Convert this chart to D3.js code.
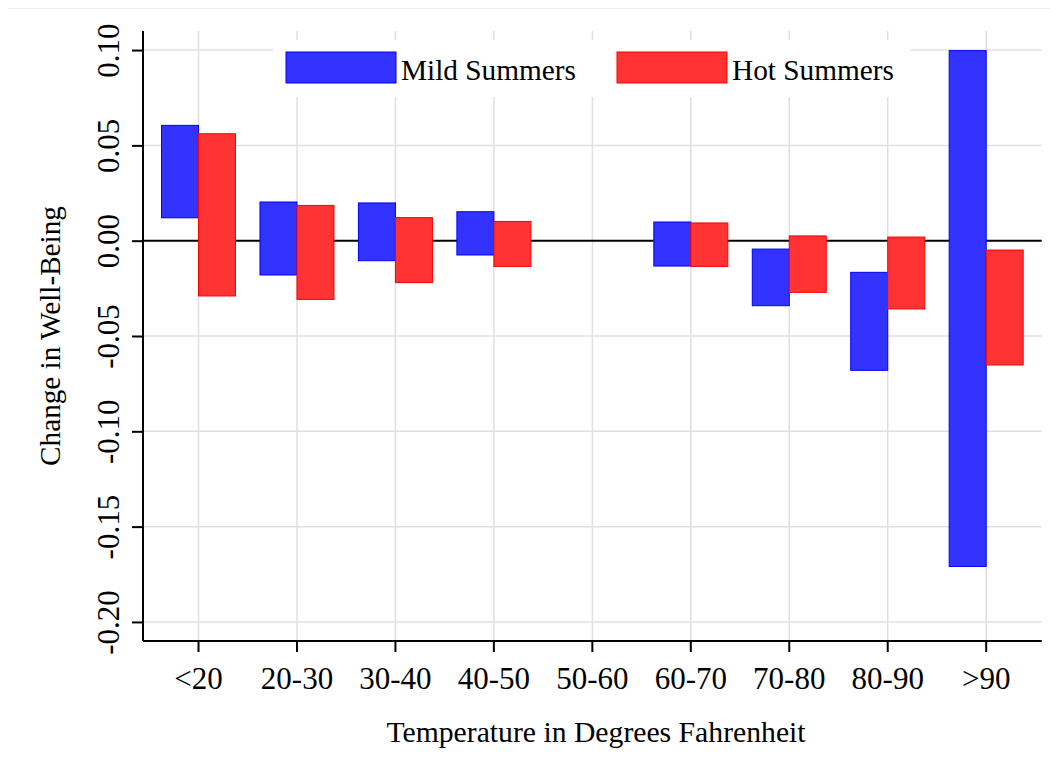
<!DOCTYPE html>
<html>
<head>
<meta charset="utf-8">
<script src="https://cdn.jsdelivr.net/npm/d3@7"></script>
<style>
  html, body { margin: 0; padding: 0; background: #fff; }
  svg { display: block; }
  text { font-family: "Liberation Serif", "Times New Roman", serif; fill: #000; }
</style>
</head>
<body>
<svg id="chart" width="1050" height="770"></svg>
<script>
// Temperature bins (degrees Fahrenheit); 50-60 is the omitted reference bin
const categories = ["<20", "20-30", "30-40", "40-50", "50-60", "60-70", "70-80", "80-90", ">90"];
const seriesNames = ["Mild Summers", "Hot Summers"];

// Interval bounds of the estimated change in well-being, per bin
const mildLow  = [0.012, -0.018, -0.0105, -0.0075, null, -0.0133, -0.0341, -0.0680, -0.1709];
const mildHigh = [0.0605, 0.0203, 0.0198, 0.0152, null, 0.0098, -0.0044, -0.0166, 0.0997];
const hotLow   = [-0.0290, -0.0308, -0.0220, -0.0135, null, -0.0135, -0.0271, -0.0358, -0.0652];
const hotHigh  = [0.0561, 0.0185, 0.0121, 0.0101, null, 0.0093, 0.0025, 0.0019, -0.0049];

const yTickValues = [-0.20, -0.15, -0.10, -0.05, 0.00, 0.05, 0.10];
const yTickLabels = ["-0.20", "-0.15", "-0.10", "-0.05", "0.00", "0.05", "0.10"];

const colors = { "Mild Summers": { fill: "#3333ff", stroke: "#0000ff" },
                 "Hot Summers":  { fill: "#ff3333", stroke: "#ff0000" } };

const svg = d3.select("#chart");

const plotLeft = 143, plotRight = 1041.7, plotTop = 31, plotBottom = 641;

const x = d3.scaleBand().domain(categories).range([plotLeft, plotRight])
  .paddingInner(0.2484).paddingOuter(0.188);
const x1 = d3.scaleBand().domain(seriesNames).range([0, x.bandwidth()]);
const y = d3.scaleLinear().domain([-0.21, 0.11]).range([plotBottom, plotTop]);

// faint outer frame line
svg.append("line").attr("x1", 8).attr("x2", 1050).attr("y1", 8.5).attr("y2", 8.5)
  .attr("stroke", "#e6eeee").attr("stroke-width", 1);

// grid
const grid = svg.append("g");
grid.selectAll("line.v").data(categories).join("line")
  .attr("x1", d => x(d) + x.bandwidth() / 2).attr("x2", d => x(d) + x.bandwidth() / 2)
  .attr("y1", plotTop).attr("y2", plotBottom)
  .attr("stroke", "#e0e0e0").attr("stroke-width", 1.5);
grid.selectAll("line.h").data(yTickValues.filter(v => v !== 0)).join("line")
  .attr("x1", plotLeft).attr("x2", plotRight)
  .attr("y1", d => y(d)).attr("y2", d => y(d))
  .attr("stroke", "#e0e0e0").attr("stroke-width", 1.5);

// legend background sits over the grid
const legend = svg.append("g");
legend.append("rect").attr("x", 273).attr("y", 40).attr("width", 638).attr("height", 57).attr("fill", "#fff");

// zero reference line
svg.append("line").attr("x1", plotLeft).attr("x2", plotRight).attr("y1", y(0)).attr("y2", y(0))
  .attr("stroke", "#000").attr("stroke-width", 2);

// floating bars
const rows = [];
categories.forEach((c, i) => {
  if (mildLow[i] !== null) rows.push({ cat: c, s: "Mild Summers", lo: mildLow[i], hi: mildHigh[i] });
  if (hotLow[i] !== null) rows.push({ cat: c, s: "Hot Summers", lo: hotLow[i], hi: hotHigh[i] });
});
svg.append("g").selectAll("rect").data(rows).join("rect")
  .attr("x", d => x(d.cat) + x1(d.s))
  .attr("width", x1.bandwidth())
  .attr("y", d => y(d.hi))
  .attr("height", d => y(d.lo) - y(d.hi))
  .attr("fill", d => colors[d.s].fill)
  .attr("stroke", d => colors[d.s].stroke)
  .attr("stroke-width", 1);

// axes
const yAxis = svg.append("g").attr("transform", `translate(${plotLeft},0)`)
  .call(d3.axisLeft(y).tickValues(yTickValues).tickSize(11).tickSizeOuter(0)
    .tickFormat((d, i) => yTickLabels[i]));
yAxis.select(".domain").attr("d", `M0,${plotBottom}V${plotTop}`).attr("stroke-width", 2);
yAxis.selectAll(".tick line").attr("stroke-width", 2);
yAxis.selectAll(".tick text")
  .attr("font-size", 31).attr("font-family", "Liberation Serif")
  .attr("text-anchor", "middle")
  .attr("x", 0).attr("y", 0).attr("dy", 0)
  .attr("transform", "translate(-24.5,0) rotate(-90)");

const xAxis = svg.append("g").attr("transform", `translate(0,${plotBottom})`)
  .call(d3.axisBottom(x).tickSize(11).tickSizeOuter(0));
xAxis.select(".domain").attr("d", `M${plotLeft},0H${plotRight}`).attr("stroke-width", 2);
xAxis.selectAll(".tick line").attr("stroke-width", 2);
xAxis.selectAll(".tick text")
  .attr("font-size", 31).attr("font-family", "Liberation Serif")
  .attr("y", 48).attr("dy", 0);

// axis titles
svg.append("text").attr("x", 596).attr("y", 742).attr("text-anchor", "middle")
  .attr("font-size", 29.7).text("Temperature in Degrees Fahrenheit");
svg.append("text").attr("transform", `translate(60,${(plotTop + plotBottom) / 2}) rotate(-90)`)
  .attr("text-anchor", "middle").attr("font-size", 29.2).text("Change in Well-Being");

// legend keys
const legendItems = [
  { s: "Mild Summers", x: 286 },
  { s: "Hot Summers", x: 617 }
];
legendItems.forEach(it => {
  legend.append("rect").attr("x", it.x).attr("y", 52).attr("width", 110).attr("height", 31)
    .attr("fill", colors[it.s].fill).attr("stroke", colors[it.s].stroke).attr("stroke-width", 1);
  legend.append("text").attr("x", it.x + 115).attr("y", 80).attr("font-size", 29.3).text(it.s);
});
</script>
</body>
</html>
